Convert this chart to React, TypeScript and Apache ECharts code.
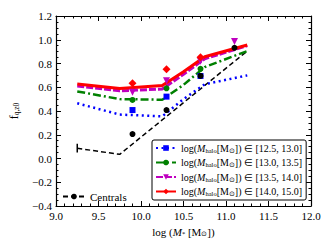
import React, { useEffect, useRef } from "react";
import * as echarts from "echarts";

const lineX = [9.25, 9.75, 10.25, 10.5, 10.75, 11.25];
const blueLine = [0.465, 0.37, 0.355, 0.5, 0.625, 0.7];
const greenLine = [0.565, 0.5, 0.495, 0.62, 0.77, 0.905];
const magentaLine = [0.61, 0.57, 0.585, 0.71, 0.84, 0.95];
const redLine = [0.627, 0.59, 0.615, 0.73, 0.857, 0.956];

const markX = [9.9, 10.3, 10.7, 11.1];
const blueMarks = [0.408, 0.521, 0.695, null];
const greenMarks = [0.493, 0.591, 0.755, null];
const magentaMarks = [0.557, 0.655, 0.82, 0.985];
const redMarks = [0.633, 0.751, 0.852, null];
const centralMarks = [0.206, 0.408, 0.695, 0.932];

const centralLineX = [9.25, 9.75, 11.25];
const centralLine = [0.086, 0.035, 0.905];
const errX = [9.25, 9.25];
const errY = [0.05, 0.125];

const haloNames = ["[12.5, 13.0]", "[13.0, 13.5]", "[13.5, 14.0]", "[14.0, 15.0]"];
const xTicks = { min: 9, max: 12, interval: 0.5 };
const yTicks = { min: -0.4, max: 1.2, interval: 0.2 };

const FONT = "Liberation Serif";

export default function App() {
  const ref = useRef<HTMLDivElement>(null);
  useEffect(() => {
    const chart = echarts.init(ref.current!, null, { renderer: "svg" });
    const pairs = (xs: number[], ys: (number | null)[]) =>
      xs.map((x, i) => [x, ys[i]]).filter((p) => p[1] !== null);
    const lineData = (xs: number[], ys: number[]) =>
      xs.map((x, i) => ({ value: [x, ys[i]], symbol: "none" }));

    const lineSeries = (
      name: string,
      ys: number[],
      color: string,
      width: number,
      type: any,
      symbol: string,
      symbolSize: number,
      symbolRotate = 0
    ) => ({
      type: "line",
      name,
      data: lineData(lineX, ys),
      symbol,
      symbolSize,
      symbolRotate,
      showSymbol: true,
      itemStyle: { color },
      lineStyle: { color, width, type },
      z: 3,
    });
    const markSeries = (
      ys: (number | null)[],
      color: string,
      symbol: string,
      symbolSize: number,
      symbolRotate = 0,
      z = 4
    ) => ({
      type: "scatter",
      data: pairs(markX, ys),
      symbol,
      symbolSize,
      symbolRotate,
      itemStyle: { color, opacity: 1 },
      z,
    });

    const legendRich = {
      i: { fontFamily: FONT, fontStyle: "italic", fontSize: 10, color: "#000" },
      s: { fontFamily: FONT, fontSize: 6.5, color: "#000", verticalAlign: "bottom", padding: [4, 0, 0, 0] },
      n: { fontFamily: FONT, fontSize: 10, color: "#000" },
    };
    const axisCommon = {
      axisLine: { onZero: false, lineStyle: { color: "#000", width: 1.2 } },
      axisTick: { inside: true, length: 5, lineStyle: { color: "#000" } },
      splitLine: { show: false },
    };

    chart.setOption({
      animation: false,
      grid: { left: 55, top: 16, right: 23, bottom: 44 },
      xAxis: [
        {
          type: "value",
          ...xTicks,
          ...axisCommon,
          name: "{n|log (}{i|M}{s|*}{n| [M}{s|⊙}{n|])}",
          nameLocation: "middle",
          nameGap: 20,
          nameTextStyle: { rich: { ...legendRich, n: { ...legendRich.n, fontSize: 11 }, i: { ...legendRich.i, fontSize: 11 } } },
          minorTick: { show: true, splitNumber: 5, length: 2.5, lineStyle: { color: "#000" } },
          axisLabel: { color: "#000", fontFamily: FONT, fontSize: 11, margin: 4, formatter: (v: number) => v.toFixed(1) },
        },
        {
          type: "value",
          position: "top",
          ...xTicks,
          ...axisCommon,
          minorTick: { show: true, splitNumber: 5, length: 2.5, lineStyle: { color: "#000" } },
          axisLabel: { show: false },
        },
      ],
      yAxis: [
        {
          type: "value",
          ...yTicks,
          ...axisCommon,
          name: "{f|f}{s|q,z0}",
          nameLocation: "middle",
          nameGap: 36,
          nameTextStyle: {
            rich: {
              f: { fontFamily: FONT, fontSize: 12, color: "#000" },
              s: { fontFamily: FONT, fontSize: 7.5, color: "#000", verticalAlign: "bottom", padding: [4, 0, 0, 0] },
            },
          },
          minorTick: { show: true, splitNumber: 4, length: 2.5, lineStyle: { color: "#000" } },
          axisLabel: {
            color: "#000",
            fontFamily: FONT,
            fontSize: 11,
            margin: 4,
            formatter: (v: number) => (v < 0 ? "\u2212" + Math.abs(v).toFixed(1) : v.toFixed(1)),
          },
        },
        {
          type: "value",
          position: "right",
          ...yTicks,
          ...axisCommon,
          minorTick: { show: true, splitNumber: 4, length: 2.5, lineStyle: { color: "#000" } },
          axisLabel: { show: false },
        },
      ],
      legend: [
        {
          data: haloNames,
          orient: "vertical",
          left: 152,
          top: 140,
          padding: [3, 4, 3, 3],
          itemGap: 4,
          itemWidth: 20,
          itemHeight: 7,
          borderColor: "#000",
          borderWidth: 1,
          borderRadius: 2,
          backgroundColor: "#fff",
          formatter: (n: string) => `{n|log(}{i|M}{s|halo}{n|[M}{s|⊙}{n|]) ∈ ${n}}`,
          textStyle: { rich: legendRich, fontFamily: FONT, fontSize: 10, color: "#000" },
        },
        {
          data: ["Centrals"],
          left: 57,
          top: 186,
          itemWidth: 22,
          itemHeight: 7,
          itemGap: 6,
          textStyle: { fontFamily: FONT, fontSize: 11, color: "#000" },
        },
      ],
      series: [
        {
          type: "line",
          name: "Centrals",
          data: lineData(centralLineX, centralLine),
          symbol: "circle",
          symbolSize: 6,
          itemStyle: { color: "#000" },
          lineStyle: { color: "#000", width: 1.5, type: [5, 3] },
          z: 2,
        },
        {
          type: "line",
          data: errX.map((x, i) => [x, errY[i]]),
          symbol: "none",
          lineStyle: { color: "#000", width: 1.5 },
          z: 2,
        },
        lineSeries(haloNames[0], blueLine, "#0000ff", 2.5, [2, 3.5], "rect", 6),
        lineSeries(haloNames[1], greenLine, "#008000", 2.5, [8, 3, 2, 3], "circle", 6),
        lineSeries(haloNames[2], magentaLine, "#bf00bf", 3, [7, 2], "triangle", 7, 180),
        lineSeries(haloNames[3], redLine, "#ff0000", 3, "solid", "diamond", 8),
        markSeries(blueMarks, "#0000ff", "rect", 6),
        markSeries(greenMarks, "#008000", "circle", 6),
        markSeries(magentaMarks, "#bf00bf", "triangle", 7, 180),
        markSeries(redMarks, "#ff0000", "diamond", 8),
        markSeries(centralMarks, "#000", "circle", 6, 0, 5),
      ],
    });
    return () => chart.dispose();
  }, []);
  return <div ref={ref} style={{ width: 334, height: 250, margin: -8 }} />;
}
